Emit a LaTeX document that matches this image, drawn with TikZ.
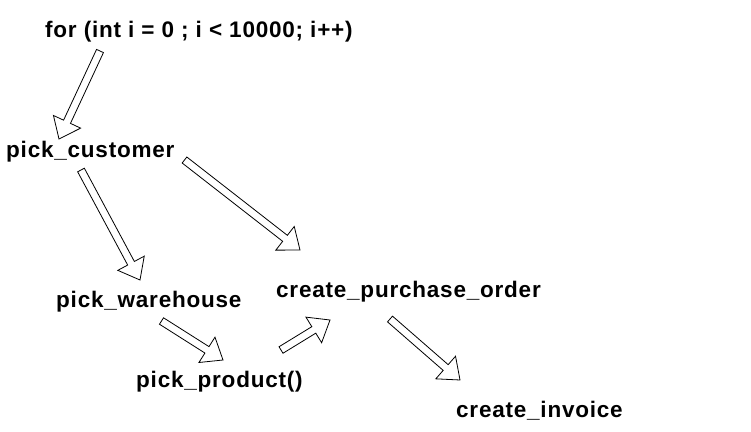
\documentclass[tikz,border=0pt]{standalone}
\usepackage{fontspec}
\setmainfont{Liberation Sans}[LetterSpace=3.5]
\usepackage{tikz}
\usetikzlibrary{calc}

\begin{document}
\begin{tikzpicture}[x=1pt,y=-1pt,
  label/.style={anchor=base west,inner sep=0pt,font=\bfseries\fontsize{22.5}{26}\selectfont},
  blockarrow/.style={draw=black,fill=white,line width=0.8pt,line join=miter}]

  \useasboundingbox (0,0) rectangle (751,431);

  \def\sw{3.8pt} % half width of shaft
  \def\hw{15pt}  % half width of head
  \def\hl{19pt}  % length of head
  \def\blockarrow#1#2{
    \coordinate (bs) at ($(#2)!\hl!(#1)$);
    \draw[blockarrow] ($(#1)!\sw!90:(#2)$) -- ($(bs)!\sw!90:(#2)$) -- ($(bs)!\hw!90:(#2)$)
        -- (#2) -- ($(bs)!\hw!-90:(#2)$) -- ($(bs)!\sw!-90:(#2)$) -- ($(#1)!\sw!-90:(#2)$) -- cycle;
  }

  \node[label] (loop) at (45,37) {for (int i = 0 ; i < 10000; i++)};
  \node[label] (cust) at (6,157) {pick\_customer};
  \node[label] (wh) at (56,307) {pick\_warehouse};
  \node[label] (po) at (276,297) {create\_purchase\_order};
  \node[label] (prod) at (136,387) {pick\_product()};
  \node[label] (inv) at (456,417) {create\_invoice};

  \coordinate (loop-out) at (100,51);
  \coordinate (cust-in) at (59,139);
  \coordinate (cust-wh) at (81,170);
  \coordinate (wh-in) at (140,280);
  \coordinate (cust-po) at (184.5,160);
  \coordinate (po-in1) at (300,250);
  \coordinate (wh-out) at (161.5,321);
  \coordinate (prod-in) at (223,360);
  \coordinate (prod-out) at (281,350);
  \coordinate (po-in2) at (330,320);
  \coordinate (po-out) at (390,319);
  \coordinate (inv-in) at (460,380);

  \blockarrow{loop-out}{cust-in}
  \blockarrow{cust-wh}{wh-in}
  \blockarrow{cust-po}{po-in1}
  \blockarrow{wh-out}{prod-in}
  \blockarrow{prod-out}{po-in2}
  \blockarrow{po-out}{inv-in}

\end{tikzpicture}
\end{document}
